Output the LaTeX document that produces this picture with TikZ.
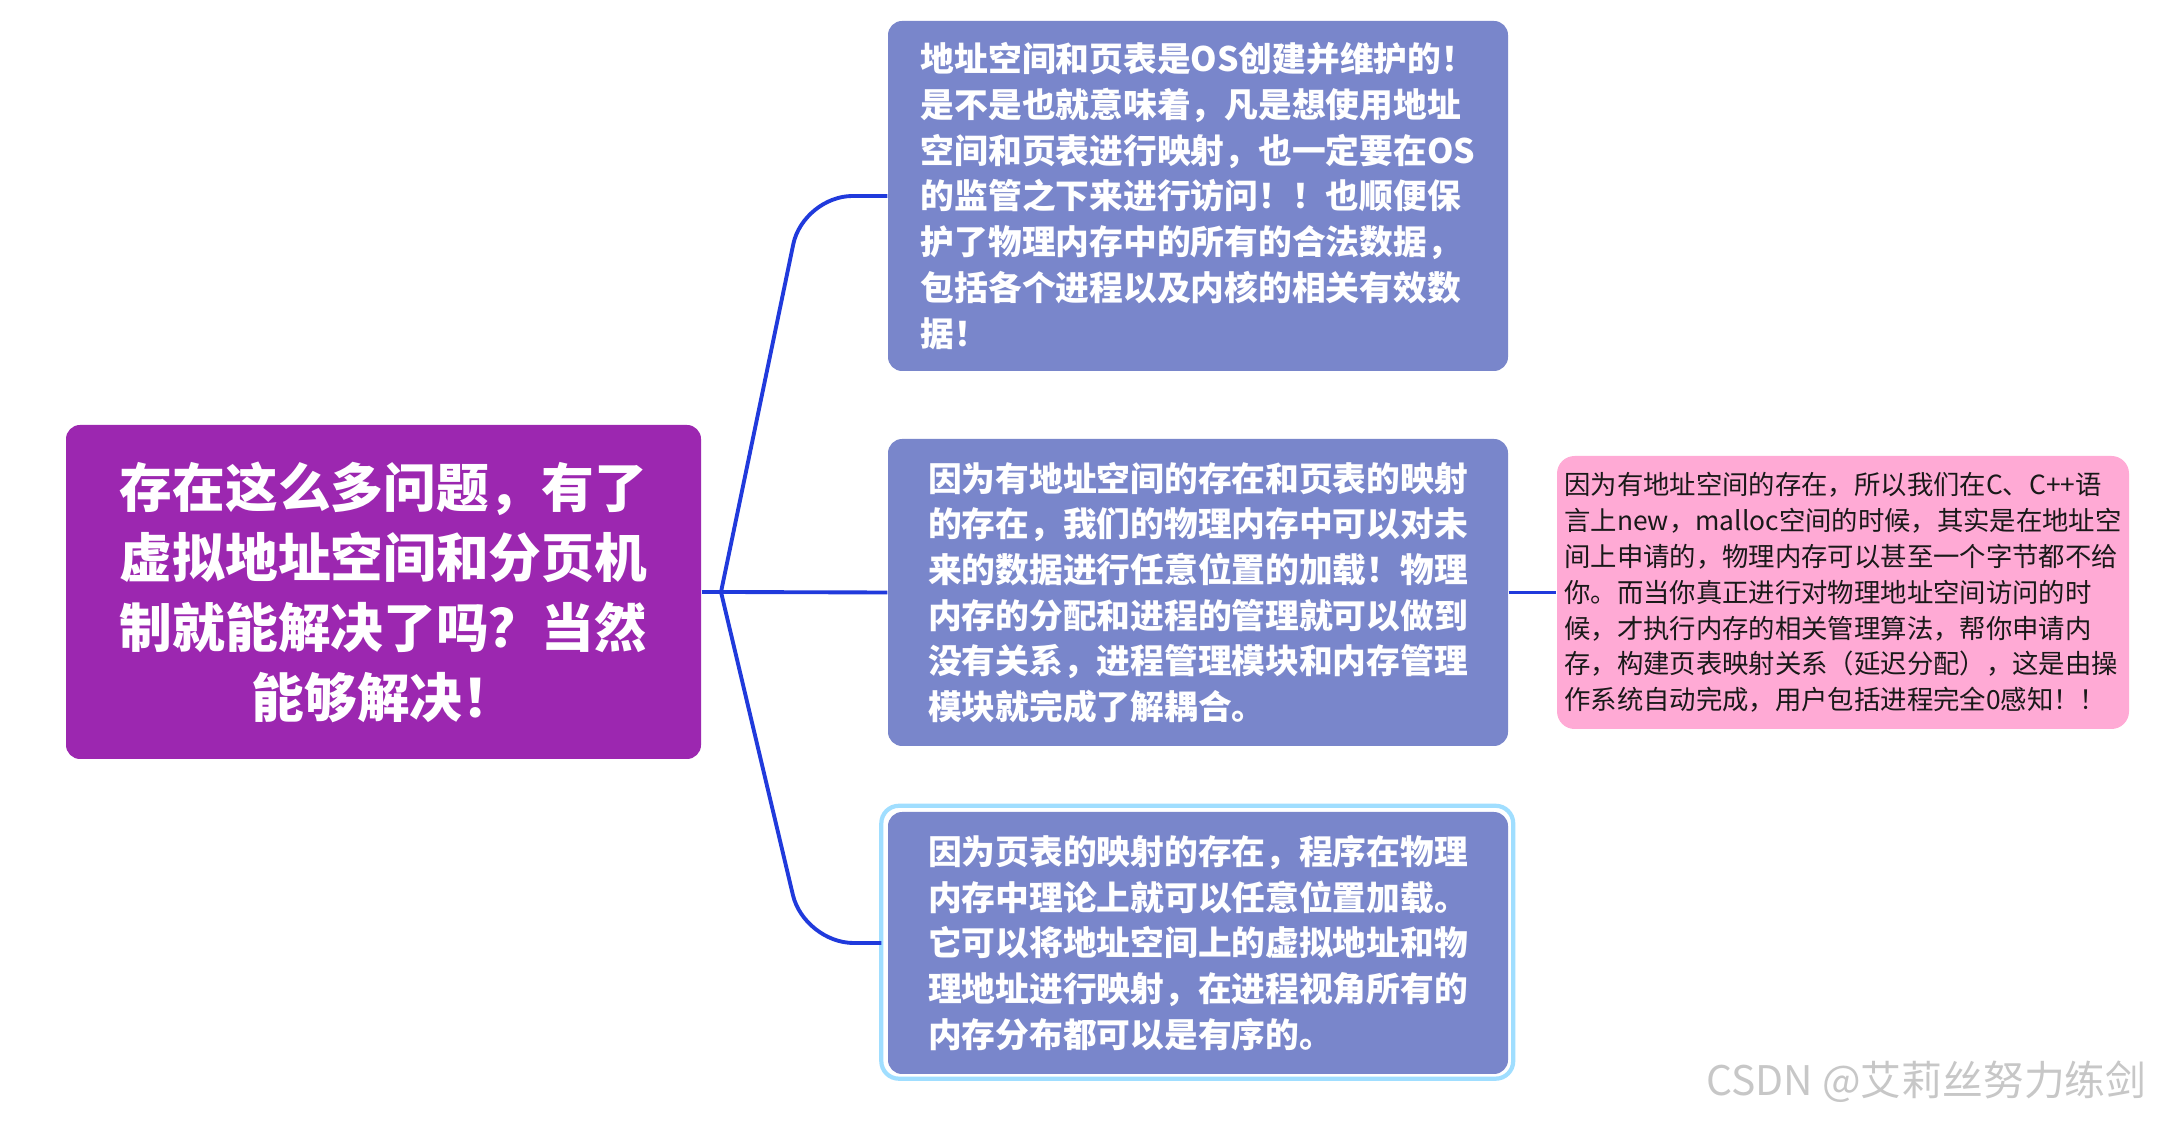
\documentclass[tikz,border=0pt]{standalone}
\usepackage{fontspec}
\setmainfont{Noto Sans CJK SC}
\definecolor{boxblue}{RGB}{121,134,203}
\definecolor{rootpurple}{RGB}{156,39,176}
\definecolor{notepink}{RGB}{255,170,213}
\definecolor{linkblue}{RGB}{32,58,220}
\definecolor{ringblue}{RGB}{160,222,255}

\begin{document}
\begin{tikzpicture}[
    qbox/.style={fill=boxblue, rounded corners=4pt, minimum width=6.2cm, inner sep=0pt,
      align=left, text=white, font=\bfseries\fontsize{9.6pt}{13pt}\selectfont},
    link/.style={draw=linkblue, line width=1.1pt, rounded corners=14pt}]

  \fill[white] (0,0) rectangle (21.65,-11.21);
  \useasboundingbox (0,0) rectangle (21.65,-11.21);

  \def\xq{11.98}

  \node[fill=rootpurple, rounded corners=4pt, minimum width=6.35cm, minimum height=3.34cm,
    align=center, text=white, font=\bfseries\fontsize{15pt}{19.9pt}\selectfont]
    (root) at (3.835,-5.92)
    {存在这么多问题，有了\\虚拟地址空间和分页机\\制就能解决了吗？当然\\能够解决！};

  \node[qbox, minimum height=3.5cm] (q1) at (\xq,-1.96)
    {地址空间和页表是OS创建并维护的！\\是不是也就意味着，凡是想使用地址\\空间和页表进行映射，也一定要在OS\\的监管之下来进行访问！！也顺便保\\护了物理内存中的所有的合法数据，\\包括各个进程以及内核的相关有效数\\据！};
  \node[qbox, minimum height=3.07cm] (q2) at (\xq,-5.925)
    {因为有地址空间的存在和页表的映射\\的存在，我们的物理内存中可以对未\\来的数据进行任意位置的加载！物理\\内存的分配和进程的管理就可以做到\\没有关系，进程管理模块和内存管理\\模块就完成了解耦合。};
  \node[qbox, minimum height=2.62cm] (q3) at (\xq,-9.43)
    {因为页表的映射的存在，程序在物理\\内存中理论上就可以任意位置加载。\\它可以将地址空间上的虚拟地址和物\\理地址进行映射，在进程视角所有的\\内存分布都可以是有序的。};
  \draw[ringblue, line width=1.2pt, rounded corners=5pt]
    ([shift={(-0.06,0.055)}]q3.north west) rectangle ([shift={(0.045,-0.04)}]q3.south east);

  \node[fill=notepink, rounded corners=5pt, minimum width=5.72cm, minimum height=2.73cm,
    inner sep=0pt, align=left, text=black!90, font=\fontsize{7.5pt}{10.2pt}\selectfont]
    (note) at (18.43,-5.925)
    {因为有地址空间的存在，所以我们在C、C++语\\言上new，malloc空间的时候，其实是在地址空\\间上申请的，物理内存可以甚至一个字节都不给\\你。而当你真正进行对物理地址空间访问的时\\候，才执行内存的相关管理算法，帮你申请内\\存，构建页表映射关系（延迟分配），这是由操\\作系统自动完成，用户包括进程完全0感知！！};

  \coordinate (j) at (7.21,-5.92);
  \draw[link] (root.east) -- (j);
  \draw[link] (j) -- ([xshift=-0.84cm]q1.west) -- (q1.west);
  \draw[link] (j) -- (q2.west);
  \draw[link] (j) -- ([xshift=-0.83cm]q3.west) -- ([xshift=-0.06cm]q3.west);
  \draw[link] (q2.east) -- (note.west);

  \node[anchor=east, inner sep=0pt, text=black!22, font=\fontsize{11.6pt}{14pt}\selectfont]
    (mark) at (21.47,-10.82) {CSDN @艾莉丝努力练剑};

\end{tikzpicture}
\end{document}
